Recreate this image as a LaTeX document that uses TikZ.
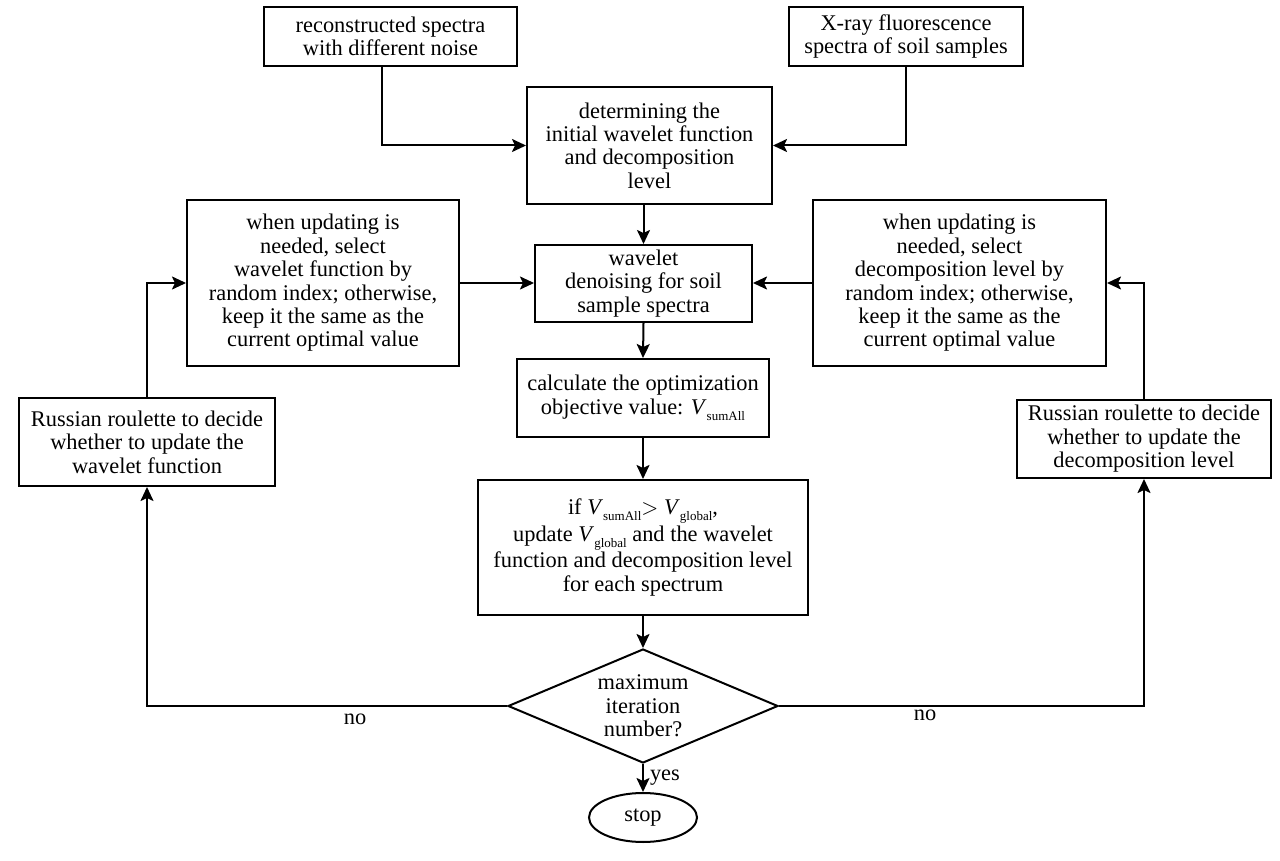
\documentclass[tikz,border=0pt]{standalone}
\usepackage{fontspec}
\setmainfont{Liberation Serif}
\usetikzlibrary{arrows.meta,shapes.geometric,calc}
\newcommand\subtxt[1]{\raisebox{-0.6ex}{\fontsize{6.5}{6.5}\selectfont #1}}
\tikzset{
  x=0.5pt,y=-0.5pt,
  every node/.style={font=\fontsize{11.2}{11.7}\selectfont},
  box/.style={draw,line width=1pt,align=center,inner sep=0pt},
  conn/.style={line width=1pt,-{Stealth[length=7pt,width=6.5pt,inset=1.5pt]}},
  lbl/.style={inner sep=0pt}
}
\begin{document}
\begin{tikzpicture}
\useasboundingbox (0,0) rectangle (1280,861);
\node[box,minimum width=253*0.5pt,minimum height=59*0.5pt] (A) at (390.5,36.5) {reconstructed spectra\\with different noise};
\node[box,minimum width=234*0.5pt,minimum height=59*0.5pt] (B) at (906,36.5) {X-ray fluorescence\\spectra of soil samples};
\node[box,minimum width=245*0.5pt,minimum height=117*0.5pt] (C) at (649.5,145.5) {determining the\\initial wavelet function\\and decomposition\\level};
\node[box,minimum width=217*0.5pt,minimum height=77*0.5pt] (D) at (643.5,283.5) {wavelet\\denoising for soil\\sample spectra};
\node[box,minimum width=252*0.5pt,minimum height=78*0.5pt] (E) at (643,398) {calculate the optimization\\objective value: \textit{V}\subtxt{sumAll}};
\node[box,minimum width=330*0.5pt,minimum height=135*0.5pt] (F) at (643,547.5) {if \textit{V}\subtxt{sumAll}$>$ \textit{V}\subtxt{global},\\update \textit{V}\subtxt{global} and the wavelet\\function and decomposition level\\for each spectrum};
\node[box,minimum width=272*0.5pt,minimum height=166*0.5pt] (G) at (323,283) {when updating is\\needed, select\\wavelet function by\\random index; otherwise,\\keep it the same as the\\current optimal value};
\node[box,minimum width=293*0.5pt,minimum height=166*0.5pt] (J) at (959.5,283) {when updating is\\needed, select\\decomposition level by\\random index; otherwise,\\keep it the same as the\\current optimal value};
\node[box,minimum width=256*0.5pt,minimum height=88*0.5pt] (H) at (147,442) {Russian roulette to decide\\whether to update the\\wavelet function};
\node[box,minimum width=254*0.5pt,minimum height=78*0.5pt] (I) at (1144,439) {Russian roulette to decide\\whether to update the\\decomposition level};
\node[box,diamond,aspect=2.37,minimum width=270*0.5pt,minimum height=114*0.5pt] (K) at (643,706) {maximum\\iteration\\number?};
\node[box,ellipse,minimum width=108*0.5pt,minimum height=49*0.5pt] (S) at (643,817.5) {stop};
\coordinate (av) at (382,66);
\draw[conn] (A.south -| av) |- (C.west);
\draw[conn] (B.south) |- (C.east);
\draw[conn] (D.north |- C.south) -- (D.north);
\draw[conn] (G.east) -- (D.west |- G.east);
\draw[conn] (J.west) -- (D.east |- J.west);
\draw[conn] (D.south) -- (E.north);
\draw[conn] (E.south) -- (F.north);
\draw[conn] (F.south) -- (K.north);
\draw[conn] (K.south) -- node[lbl,right=3pt] {yes} (S.north);
\draw[conn] (K.west) -| (H.south);
\draw[conn] (H.north) |- (G.west);
\draw[conn] (K.east) -| (I.south);
\draw[conn] (I.north) |- (J.east);
\node[lbl] (no1) at (355,719) {no};
\node[lbl] (no2) at (925,715) {no};
\end{tikzpicture}
\end{document}
